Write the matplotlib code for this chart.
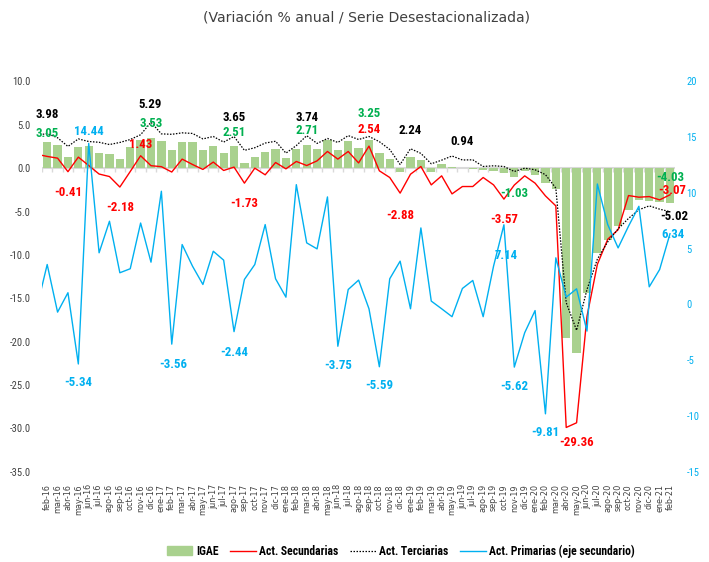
import numpy as np
import matplotlib
matplotlib.use("Agg")
import matplotlib.pyplot as plt
from matplotlib.patches import Patch
from matplotlib.lines import Line2D
from matplotlib import font_manager

# pick a narrow family if one is installed
installed = {f.name for f in font_manager.fontManager.ttflist}
narrow_opts = ['Liberation Sans Narrow', 'Arial Narrow', 'DejaVu Sans Condensed',
               'Roboto Condensed', 'Open Sans Condensed', 'Liberation Sans']
NARROW = [f for f in narrow_opts if f in installed][:1] + ['DejaVu Sans']
IS_NARROW = NARROW[0] != 'Liberation Sans'

# Months feb-16 .. feb-21
meses = ['ene', 'feb', 'mar', 'abr', 'may', 'jun', 'jul', 'ago', 'sep', 'oct', 'nov', 'dic']
labels = []
for yr in range(16, 22):
    for m in meses:
        labels.append(f"{m}-{yr}")
labels = labels[1:62]

igae = [3.05, 2.70, 1.23, 2.38, 2.50, 1.75, 1.60, 1.10, 2.38, 3.20,
        3.53, 3.15, 2.10, 2.98, 2.98, 2.10, 2.60, 1.73, 2.51, 0.58,
        1.34, 1.85, 2.23, 1.15, 2.23, 2.71, 2.23, 3.27, 2.11, 3.15,
        2.35, 3.25, 1.73, 1.07, -0.50, 1.23, 0.96, -0.50, 0.48, 0.10,
        0.05, -0.10, -0.25, -0.30, -0.58, -1.03, -0.35, -0.75, -1.73, -2.45,
        -19.60, -21.30, -14.40, -9.80, -8.30, -6.66, -4.80, -3.66, -3.80, -3.85,
        -4.03]

# first value of each line is ene-16 (clipped at the left edge)
secundarias = [1.60, 1.35, 1.15, -0.41, 1.27, 0.30, -0.68, -0.97, -2.18, -0.39, 1.43,
               0.28, 0.17, -0.45, 1.04, 0.42, -0.15, 0.70, -0.27, 0.12, -1.73,
               0.00, -0.77, 0.65, -0.08, 0.77, 0.30, 0.84, 1.92, 1.04, 1.92,
               0.60, 2.54, -0.31, -1.08, -2.88, -0.70, 0.19, -1.93, -0.89, -2.97,
               -2.12, -2.12, -1.08, -1.93, -3.57, -1.95, -0.89, -1.73, -3.20, -4.35,
               -29.90, -29.36, -17.10, -11.10, -8.20, -7.10, -3.16, -3.35, -3.28, -3.66,
               -3.07]

terciarias = [3.80, 3.98, 3.50, 2.50, 3.37, 3.07, 2.98, 2.72, 2.96, 3.30, 3.85,
              5.29, 3.95, 3.90, 4.07, 4.00, 3.37, 3.65, 3.00, 3.65, 2.05,
              2.35, 2.89, 3.10, 1.73, 2.60, 3.74, 2.85, 3.42, 2.96, 3.75,
              3.30, 3.65, 3.05, 2.15, 0.42, 2.24, 1.70, 0.50, 0.92, 1.40,
              0.94, 0.96, 0.19, 0.27, 0.19, -0.39, 0.00, -0.19, -0.75, -2.30,
              -15.50, -18.70, -14.00, -10.50, -8.50, -7.00, -5.80, -4.80, -4.35, -4.73,
              -5.02]

primarias = [-0.30, 3.58, -0.69, 1.05, -5.34, 14.44, 4.63, 7.46, 2.84, 3.20, 7.30,
             3.79, 10.15, -3.56, 5.37, 3.43, 1.79, 4.77, 3.97, -2.44, 2.24,
             3.58, 7.16, 2.30, 0.65, 10.74, 5.52, 4.98, 9.64, -3.75, 1.34,
             2.18, -0.39, -5.59, 2.30, 3.88, -0.39, 6.86, 0.30, -0.39, -1.10,
             1.43, 2.15, -1.10, 3.43, 7.14, -5.62, -2.54, -0.55, -9.81, 4.18,
             0.65, 1.40, -2.39, 10.80, 7.16, 5.07, 7.01, 8.80, 1.58, 3.13,
             6.34]

C_BAR = '#A9D18E'
C_GREEN = '#00B050'
C_RED = '#FF0000'
C_BLUE = '#00B0F0'
C_TXT = '#404040'

LAB_SIZE = 9.3 if IS_NARROW else 8.3
TICK_SIZE = 7.6 if IS_NARROW else 6.8
LEG_SIZE = 8.4 if IS_NARROW else 7.6

n = len(labels)
x = np.arange(n)
xl = np.arange(-1, n)

fig = plt.figure(figsize=(7.09, 5.62), dpi=100)
ax = fig.add_axes([42 / 709, 1 - 471.7 / 562, 633.2 / 709, 390.3 / 562])

ax.bar(x, igae, width=0.8, color=C_BAR, zorder=2)
ax.axhline(0, color='#d9d9d9', lw=1.5, zorder=1)
ax.vlines(np.arange(-0.5, n), -0.45, 0, color='#d9d9d9', lw=1, zorder=1)
ax.plot(xl, secundarias, color=C_RED, lw=1.0, zorder=3)
ax.plot(xl, terciarias, color='black', lw=0.9, ls=(0, (1.2, 1.2)), zorder=3)

ax.set_xlim(-0.5, n - 0.5)
ax.set_ylim(-35, 10)
ax.set_yticks(np.arange(-35, 10.1, 5))
ax.set_yticklabels([f"{v:.1f}" for v in np.arange(-35, 10.1, 5)],
                   family=NARROW, fontsize=TICK_SIZE, color=C_TXT)
ax.set_xticks(x)
ax.set_xticklabels(labels, rotation=90, fontsize=5.8, color=C_TXT, family='DejaVu Sans')
ax.tick_params(axis='both', length=0)
ax.tick_params(axis='x', pad=9)
ax.tick_params(axis='y', pad=8)
for s in ax.spines.values():
    s.set_visible(False)

ax2 = ax.twinx()
ax2.plot(xl, primarias, color=C_BLUE, lw=1.0, zorder=3)
ax2.set_ylim(-15, 20)
ax2.set_yticks(np.arange(-15, 21, 5))
ax2.set_yticklabels([str(v) for v in range(-15, 21, 5)],
                    family=NARROW, fontsize=TICK_SIZE, color=C_BLUE)
ax2.tick_params(axis='y', length=0, pad=8)
for s in ax2.spines.values():
    s.set_visible(False)
ax2.set_xlim(-0.5, n - 0.5)


# data labels, offsets in pixels from the point
def lab(axis, vals, i, dx, dy, color, off=0):
    v = vals[i + off]
    axis.annotate(f"{v:.2f}", (i, v), xytext=(dx * 0.72, dy * 0.72),
                  textcoords='offset points', ha='center', va='center',
                  color=color, fontsize=LAB_SIZE, fontweight='bold', family=NARROW,
                  zorder=5)


for i, dx, dy in [(0, 0, 19), (10, -1, 18), (18, 0, 19), (25, 0, 18), (35, 0, 18),
                  (40, 0, 18), (60, 4, -5)]:
    lab(ax, terciarias, i, dx, dy, 'black', off=1)

for i, dx, dy in [(0, 0, 8.6), (10, 0, 14.4), (18, 0, 14), (25, 0, 14), (31, 0, 26.4),
                  (45, 0, -16), (60, 0, 25.7)]:
    lab(ax, igae, i, dx, dy, C_GREEN)

for i, dx, dy in [(2, 0, -21), (7, 0, -20), (9, 0, 11), (19, 0, -20), (31, 0, 17),
                  (34, 0, -22), (44, 0, -20), (51, 0, -20), (60, 2, 4)]:
    lab(ax, secundarias, i, dx, dy, C_RED, off=1)

for i, dx, dy in [(4, 0, 12), (3, 0, -19), (12, 1, -20), (18, 0, -21), (28, 0, -19),
                  (32, 0, -19), (44, 2, -31), (45, 0, -19), (48, 0, -19), (60, 3, -1)]:
    lab(ax2, primarias, i, dx, dy, C_BLUE, off=1)

fig.text(0.517, 1 - 18 / 562, "(Variación % anual / Serie Desestacionalizada)",
         ha='center', va='center', fontsize=10.1, color=C_TXT, family='DejaVu Sans')

handles = [Patch(color=C_BAR),
           Line2D([0], [0], color=C_RED, lw=1.0),
           Line2D([0], [0], color='black', lw=0.9, ls=(0, (1.2, 1.2))),
           Line2D([0], [0], color=C_BLUE, lw=1.0)]
names = ['IGAE', 'Act. Secundarias', 'Act. Terciarias', 'Act. Primarias (eje secundario)']
fig.legend(handles, names, loc='center', bbox_to_anchor=(401 / 709, 1 - 551 / 562), ncol=4,
           frameon=False, prop={'family': NARROW, 'weight': 'bold', 'size': LEG_SIZE},
           handlelength=2.2, handletextpad=0.3, columnspacing=1.0)

fig.savefig('out.png', dpi=100)
plt.close(fig)
